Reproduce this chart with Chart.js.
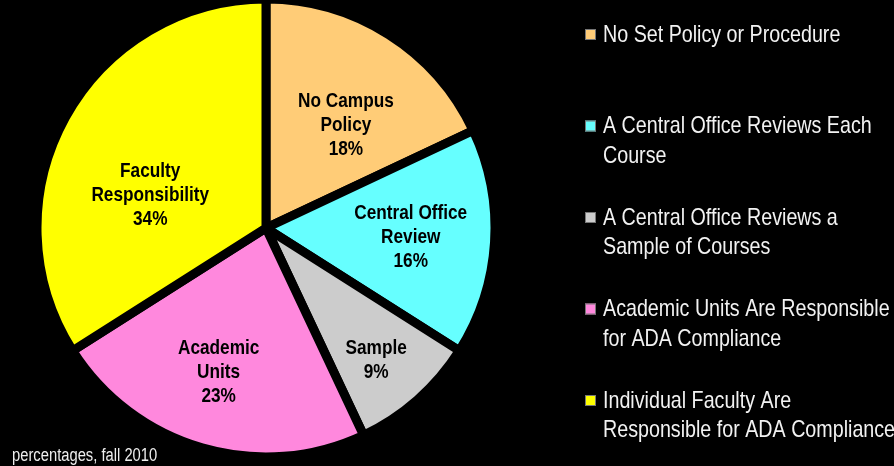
<!DOCTYPE html>
<html>
<head>
<meta charset="utf-8">
<title>Course ADA Review Policy</title>
<script src="https://cdn.jsdelivr.net/npm/chart.js@4.4.0/dist/chart.umd.min.js"></script>
<style>
    html, body { margin: 0; padding: 0; background: #000; }
    #wrap { position: relative; width: 894px; height: 466px; }
</style>
</head>
<body>
<div id="wrap"><canvas id="policyChart" width="894" height="466"></canvas></div>
<script>
// Chart data
const percentages = [18, 16, 9, 23, 34];
const sliceLabels = [
    ['No Campus', 'Policy'],
    ['Central Office', 'Review'],
    ['Sample'],
    ['Academic', 'Units'],
    ['Faculty', 'Responsibility']
];
const legendLabels = [
    ['No Set Policy or Procedure'],
    ['A Central Office Reviews Each', 'Course'],
    ['A Central Office Reviews a', 'Sample of Courses'],
    ['Academic Units Are Responsible', 'for ADA Compliance'],
    ['Individual Faculty Are', 'Responsible for ADA Compliance']
];
const sliceColors = ['#FFCC77', '#66FFFF', '#CCCCCC', '#FF88DD', '#FFFF00'];
const footNote = 'percentages, fall 2010';

// Label placement: fraction of radius + small pixel nudge
const labelPlacement = [
    { f: 0.57, dx: 10, dy: 7 },
    { f: 0.572, dx: 14, dy: 1 },
    { f: 0.734, dx: -1, dy: 6 },
    { f: 0.663, dx: -5, dy: -2 },
    { f: 0.527, dx: -10, dy: 25 }
];

// Check whether the narrow font is installed, otherwise squeeze Liberation Sans
function narrowAvailable() {
    const c = document.createElement('canvas').getContext('2d');
    const sample = 'No Set Policy or Procedure';
    c.font = '24px "Liberation Sans Narrow", monospace';
    const a = c.measureText(sample).width;
    c.font = '24px monospace';
    const b = c.measureText(sample).width;
    return a !== b;
}
const hasNarrow = narrowAvailable();
const fontFamily = hasNarrow ? '"Liberation Sans Narrow"' : '"Liberation Sans", Arial';
const squeeze = hasNarrow ? 1 : 0.82;

function drawText(ctx, text, x, y, size, bold, color, align) {
    ctx.save();
    ctx.font = (bold ? 'bold ' : '') + size + 'px ' + fontFamily;
    ctx.fillStyle = color;
    ctx.textAlign = align;
    ctx.textBaseline = 'middle';
    ctx.translate(x, y);
    ctx.scale(squeeze, 1);
    ctx.fillText(text, 0, 0);
    ctx.restore();
}

// Slice labels inside the pie
const sliceLabelPlugin = {
    id: 'sliceLabels',
    afterDatasetsDraw(chart) {
        const ctx = chart.ctx;
        const arcs = chart.getDatasetMeta(0).data;
        arcs.forEach((arc, i) => {
            const mid = (arc.startAngle + arc.endAngle) / 2;
            const p = labelPlacement[i];
            const r = arc.outerRadius * p.f;
            const cx = arc.x + Math.cos(mid) * r + p.dx;
            const cy = arc.y + Math.sin(mid) * r + p.dy;
            const lines = sliceLabels[i].concat([percentages[i] + '%']);
            const lh = 24;
            const top = cy - (lines.length - 1) * lh / 2;
            lines.forEach((line, j) => {
                drawText(ctx, line, cx, top + j * lh, 21, true, '#000', 'center');
            });
        });
    }
};

// Legend on the right + footnote
const sideLegendPlugin = {
    id: 'sideLegend',
    afterDraw(chart) {
        const ctx = chart.ctx;
        const startY = 35;
        const itemGap = 91.5;
        const lineH = 29.5;
        legendLabels.forEach((lines, i) => {
            const y = startY + i * itemGap;
            ctx.save();
            ctx.fillStyle = sliceColors[i];
            ctx.fillRect(585, y - 6, 11, 11);
            ctx.strokeStyle = '#777';
            ctx.lineWidth = 1;
            ctx.strokeRect(585.5, y - 5.5, 10, 10);
            ctx.restore();
            lines.forEach((line, j) => {
                drawText(ctx, line, 603, y + j * lineH, 24, false, '#F2F2F2', 'left');
            });
        });
        drawText(ctx, footNote, 12, 456, 18, false, '#EEEEEE', 'left');
    }
};

const ctx = document.getElementById('policyChart').getContext('2d');

new Chart(ctx, {
    type: 'pie',
    data: {
        labels: legendLabels.map(l => l.join(' ')),
        datasets: [{
            data: percentages,
            backgroundColor: sliceColors,
            borderColor: '#000',
            borderWidth: 9,
            clip: false
        }]
    },
    options: {
        responsive: false,
        animation: false,
        radius: 229,
        layout: {
            padding: { left: 0, right: 362, top: 0, bottom: 10 }
        },
        plugins: {
            legend: { display: false },
            tooltip: { enabled: false }
        }
    },
    plugins: [sliceLabelPlugin, sideLegendPlugin]
});
</script>
</body>
</html>
